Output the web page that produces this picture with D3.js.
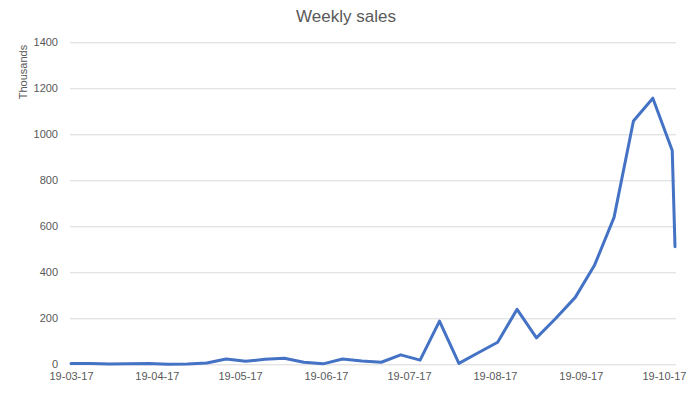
<!DOCTYPE html>
<html>
<head>
<meta charset="utf-8">
<script src="https://cdn.jsdelivr.net/npm/d3@7"></script>
<style>
  body { margin: 0; background: #fff; }
  svg { font-family: "Liberation Sans", Arial, sans-serif; }
</style>
</head>
<body>
<svg id="chart"></svg>
<script>
// weekly dates (dd-mm-yy) and sales in thousands
var weeks = ["19-03-17", "26-03-17", "02-04-17", "09-04-17", "16-04-17", "23-04-17", "30-04-17",
  "07-05-17", "14-05-17", "21-05-17", "28-05-17", "04-06-17", "11-06-17", "18-06-17", "25-06-17",
  "02-07-17", "09-07-17", "16-07-17", "23-07-17", "30-07-17", "06-08-17", "13-08-17", "20-08-17",
  "27-08-17", "03-09-17", "10-09-17", "17-09-17", "24-09-17", "01-10-17", "08-10-17", "15-10-17",
  "22-10-17", "23-10-17"];
var sales = [4, 4, 1, 2, 4, 0, 1,
  6, 23, 13, 22, 26, 9, 2, 23,
  14, 9, 41, 18, 188, 4, 50, 96,
  239, 115, 200, 291, 432, 639, 1058, 1157,
  930, 511];

var xTickLabels = ["19-03-17", "19-04-17", "19-05-17", "19-06-17", "19-07-17", "19-08-17", "19-09-17", "19-10-17"];
var yTicks = [0, 200, 400, 600, 800, 1000, 1200, 1400];

var width = 691
var height = 395

var parseDate = d3.timeParse("%d-%m-%y");

var dataList = []
for (var i = 0; i < weeks.length; i++) {
  dataList.push({"Date": parseDate(weeks[i]), "Value": sales[i]});
}

var svg = d3.select("#chart")
  .attr("width", width)
  .attr("height", height);

var xScale = d3.scaleTime()
  .domain([dataList[0].Date, dataList[dataList.length - 1].Date])
  .range([71, 675]);

var yScale = d3.scaleLinear()
  .domain([0, 1400])
  .range([364.3, 42.3]);

// title
svg.append("text")
  .attr("x", 346)
  .attr("y", 22)
  .attr("text-anchor", "middle")
  .style("font-size", "17px")
  .style("fill", "#595959")
  .text("Weekly sales");

// y axis label
svg.append("text")
  .attr("transform", "translate(27,72) rotate(-90)")
  .attr("text-anchor", "middle")
  .style("font-size", "11px")
  .style("fill", "#595959")
  .text("Thousands");

// gridlines + y labels
var yAxis = svg.append("g")
  .attr("class", "yAxis")
  .attr("transform", "translate(70,0)")
  .call(d3.axisLeft(yScale).tickValues(yTicks).tickFormat(d3.format("d")).tickSize(-606).tickPadding(12));

yAxis.select(".domain").remove();
yAxis.selectAll(".tick line")
  .attr("stroke", "#d9d9d9")
  .attr("stroke-width", 1);
yAxis.selectAll(".tick text")
  .style("font-size", "11px")
  .style("fill", "#595959")
  .style("font-family", "Liberation Sans, Arial, sans-serif");

// x axis
var xAxis = svg.append("g")
  .attr("class", "xAxis")
  .attr("transform", "translate(0," + yScale(0) + ")")
  .call(d3.axisBottom(xScale)
    .tickValues(xTickLabels.map(parseDate))
    .tickFormat(d3.timeFormat("%d-%m-%y"))
    .tickSize(0)
    .tickPadding(8));

xAxis.select(".domain").remove();
xAxis.selectAll(".tick text")
  .style("font-size", "11px")
  .style("fill", "#595959")
  .style("font-family", "Liberation Sans, Arial, sans-serif");

var line = d3.line()
  .x(function(d) { return xScale(d.Date) })
  .y(function(d) { return yScale(d.Value) });

svg.append("path")
  .datum(dataList)
  .attr("fill", "none")
  .attr("stroke", "#4472c4")
  .attr("stroke-width", 3)
  .attr("stroke-linejoin", "round")
  .attr("stroke-linecap", "round")
  .attr("d", line);
</script>
</body>
</html>
